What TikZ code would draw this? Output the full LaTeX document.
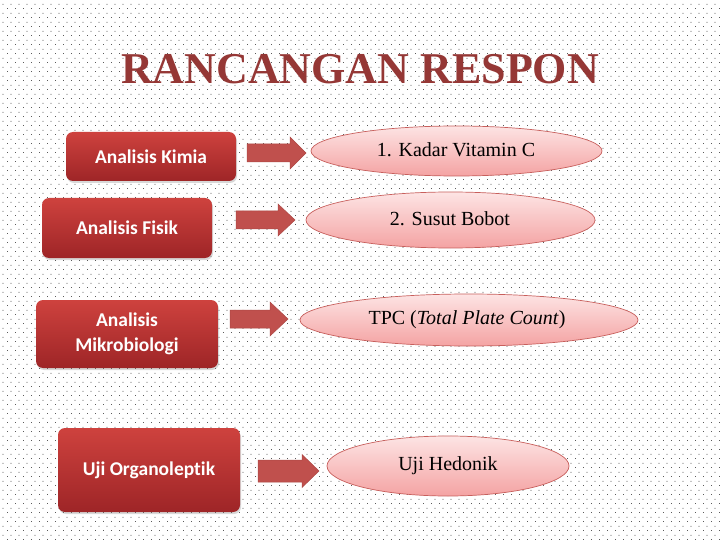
\documentclass[tikz,border=0pt]{standalone}
\usepackage{fontspec}
\setmainfont{Liberation Serif}
\newfontfamily\boxfont[Ligatures=NoCommon]{Carlito}
\usetikzlibrary{shapes.geometric,shadows,patterns.meta}
\definecolor{titlered}{RGB}{149,55,53}
\definecolor{boxtop}{RGB}{206,66,62}
\definecolor{boxbot}{RGB}{158,37,39}
\definecolor{arrowred}{RGB}{192,80,77}
\definecolor{elltop}{RGB}{253,228,228}
\definecolor{ellbot}{RGB}{244,163,163}
\definecolor{elledge}{RGB}{200,95,92}
\definecolor{dotgrey}{RGB}{90,90,90}
\tikzdeclarepattern{
  name=bgdots,
  type=uncolored,
  bounding box={(0pt,0pt) and (8pt,8.6pt)},
  tile size={(8pt,8.6pt)},
  code={
    \fill (0pt,0pt) rectangle (1pt,1pt);
    \fill (4pt,4.3pt) rectangle (5pt,5.3pt);
  }
}
\tikzset{
  redbox/.style={rectangle, rounded corners=7pt, top color=boxtop, bottom color=boxbot,
    draw=none, text=white, font=\boxfont\bfseries\fontsize{19.5}{25}\selectfont,
    align=center, inner sep=0pt,
    drop shadow={shadow xshift=1pt, shadow yshift=-2pt, opacity=0.3}},
  blockarrow/.style={fill=arrowred, draw=arrowred!90!black, line width=0.5pt, line join=miter},
  pinkell/.style={ellipse, top color=elltop, bottom color=ellbot, draw=elledge,
    line width=0.7pt, inner sep=0pt},
  elltext/.style={font=\fontsize{20}{24}\selectfont, inner sep=0pt},
}
% #1 start x, #2 head start x, #3 tip x, #4 centre y, #5 body half, #6 head half
\newcommand{\blockarr}[6]{%
  \draw[blockarrow] (#1,#4-#5) -- (#2,#4-#5) -- (#2,#4-#6) -- (#3,#4) -- (#2,#4+#6)
    -- (#2,#4+#5) -- (#1,#4+#5) -- cycle;}
\begin{document}
\begin{tikzpicture}[x=1pt,y=-1pt]
\fill[white] (0,0) rectangle (720,540);
\fill[pattern={bgdots}, pattern color=dotgrey] (0,0) rectangle (720,540);
\useasboundingbox (0,0) rectangle (720,540);

\node[text=titlered, font=\bfseries\fontsize{44}{50}\selectfont, anchor=base] (title) at (360,84) {RANCANGAN RESPON};

% boxes
\node[redbox, minimum width=170pt, minimum height=49pt] (b1) at (151,156.5) {Analisis Kimia};
\node[redbox, minimum width=170pt, minimum height=60pt] (b2) at (127,228) {Analisis Fisik};
\node[redbox, minimum width=182pt, minimum height=68pt] (b3) at (127,334) {Analisis\\Mikrobiologi};
\node[redbox, minimum width=182pt, minimum height=84pt] (b4) at (149,470) {Uji Organoleptik};

% block arrows
\blockarr{247}{290}{306}{153}{9}{16}
\blockarr{236}{278}{295}{220}{9}{16}
\blockarr{230}{270}{288}{319}{9}{17}
\blockarr{258}{302}{319}{471}{11}{16.5}

% ellipses
\node[pinkell, minimum width=291pt, minimum height=50pt] (e1) at (456.5,151) {};
\node[elltext] (t1) at (456,150) {1. Kadar Vitamin C};
\node[pinkell, minimum width=289pt, minimum height=56pt] (e2) at (450.5,220) {};
\node[elltext] (t2) at (450,219) {2. Susut Bobot};
\node[pinkell, minimum width=338pt, minimum height=52pt] (e3) at (469,320) {};
\node[elltext] (t3) at (467,320) {TPC (\textit{Total Plate Count})};
\node[pinkell, minimum width=242pt, minimum height=60pt] (e4) at (448,466) {};
\node[elltext] (t4) at (448,466) {Uji Hedonik};
\end{tikzpicture}
\end{document}
